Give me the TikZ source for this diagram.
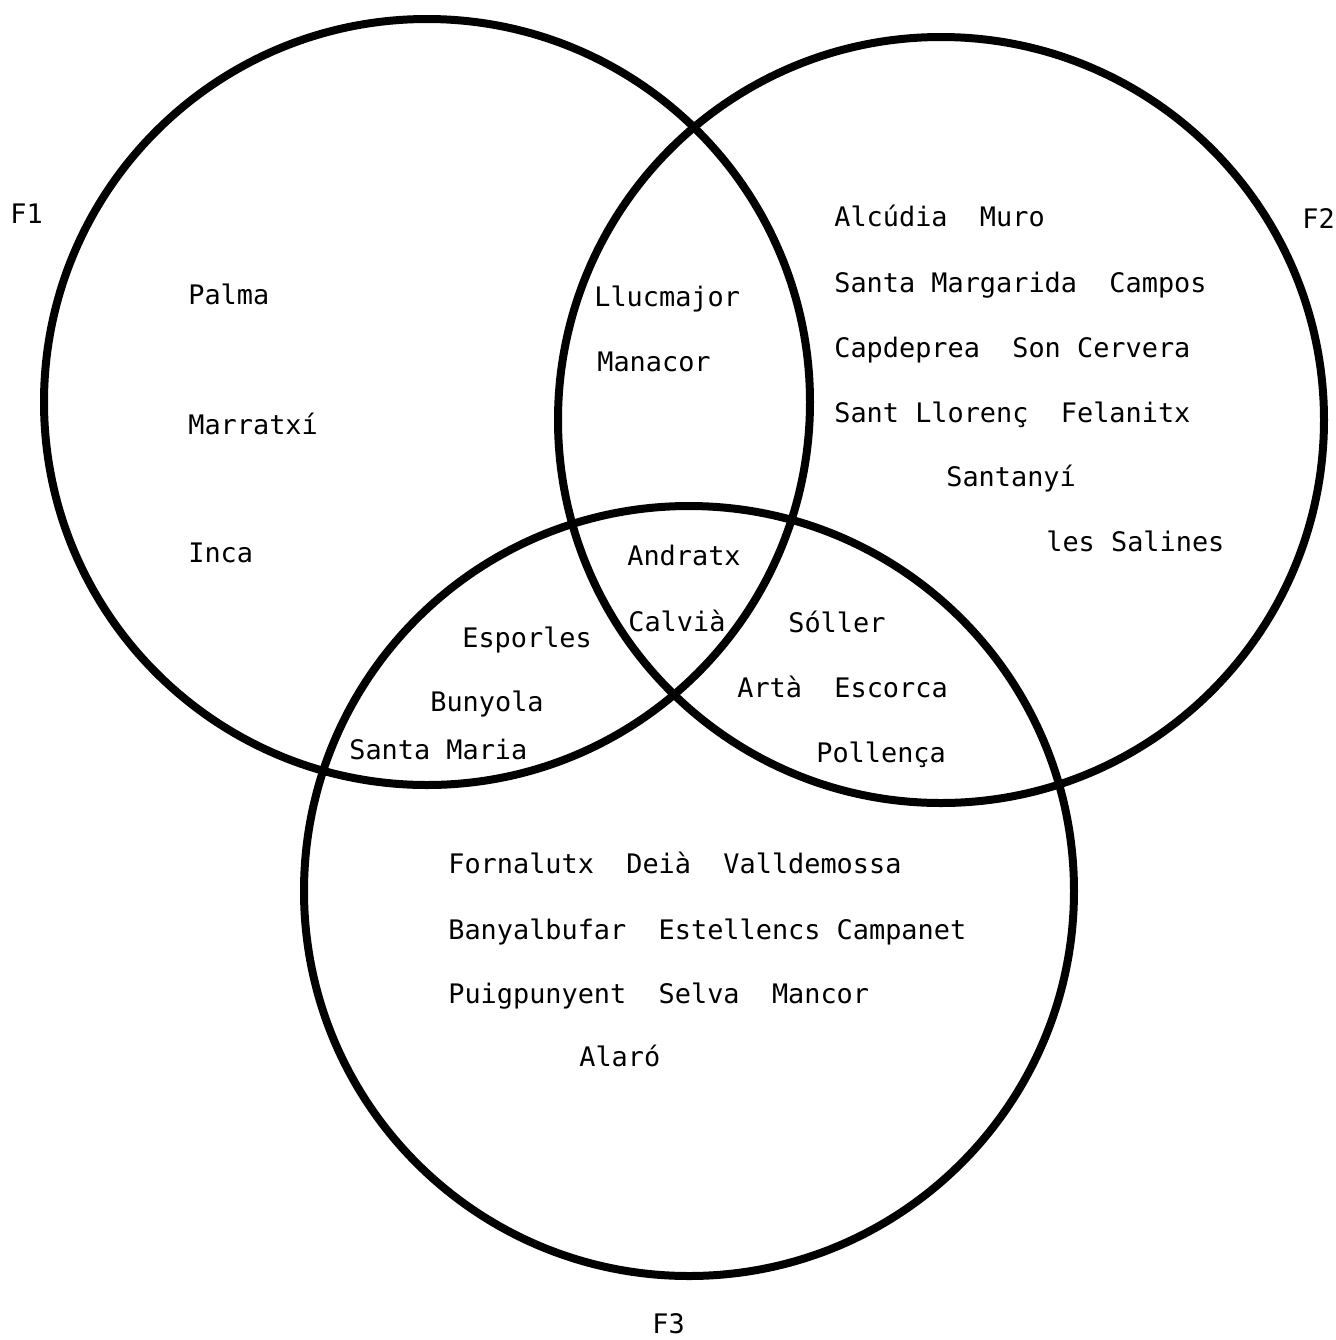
\documentclass[tikz,border=0pt]{standalone}
\usepackage{fontspec}
\setmonofont{DejaVu Sans Mono}
\begin{document}
\begin{tikzpicture}[x=0.02cm,y=-0.02cm,
    town/.style={anchor=base west,inner sep=0pt,font=\fontsize{15.3}{18}\selectfont\ttfamily}]
    \useasboundingbox (0,0) rectangle (1336,1340);
    \begin{scope}[every path/.style={line width=0.16cm,black}]

        % circle F1
        \draw (427,402) circle[radius=383];

        % circle F2
        \draw (941,420) circle[radius=383];

        % circle F3
        \draw (689,891) circle[radius=385];
    \end{scope}

    % set labels
    \node[town] (f1) at (10,223) {F1};
    \node[town] (f2) at (1302,228) {F2};
    \node[town] (f3) at (652,1333) {F3};

    % only F1
    \node[town] (palma) at (188,304) {Palma};
    \node[town] (marratxi) at (188,434) {Marratxí};
    \node[town] (inca) at (188,562) {Inca};

    % F1 and F2
    \node[town] (llucmajor) at (594,306) {Llucmajor};
    \node[town] (manacor) at (597,371) {Manacor};

    % only F2
    \node[town] (alcudia) at (834,226) {Alcúdia~~Muro};
    \node[town] (santamargarida) at (834,292) {Santa Margarida~~Campos};
    \node[town] (capdeprea) at (834,357) {Capdeprea~~Son Cervera};
    \node[town] (santllorenc) at (834,422) {Sant Llorenç~~Felanitx};
    \node[town] (santanyi) at (946,486) {Santanyí};
    \node[town] (lessalines) at (1046,551) {les Salines};

    % F1, F2 and F3
    \node[town] (andratx) at (627,565) {Andratx};
    \node[town] (calvia) at (628,631) {Calvià};

    % F1 and F3
    \node[town] (esporles) at (462,647) {Esporles};
    \node[town] (bunyola) at (430,711) {Bunyola};
    \node[town] (santamaria) at (349,759) {Santa Maria};

    % F2 and F3
    \node[town] (soller) at (788,632) {Sóller};
    \node[town] (arta) at (737,697) {Artà~~Escorca};
    \node[town] (pollenca) at (816,762) {Pollença};

    % only F3
    \node[town] (fornalutx) at (448,873) {Fornalutx~~Deià~~Valldemossa};
    \node[town] (banyalbufar) at (448,939) {Banyalbufar~~Estellencs~Campanet};
    \node[town] (puigpunyent) at (448,1003) {Puigpunyent~~Selva~~Mancor};
    \node[town] (alaro) at (579,1066) {Alaró};
\end{tikzpicture}
\end{document}
